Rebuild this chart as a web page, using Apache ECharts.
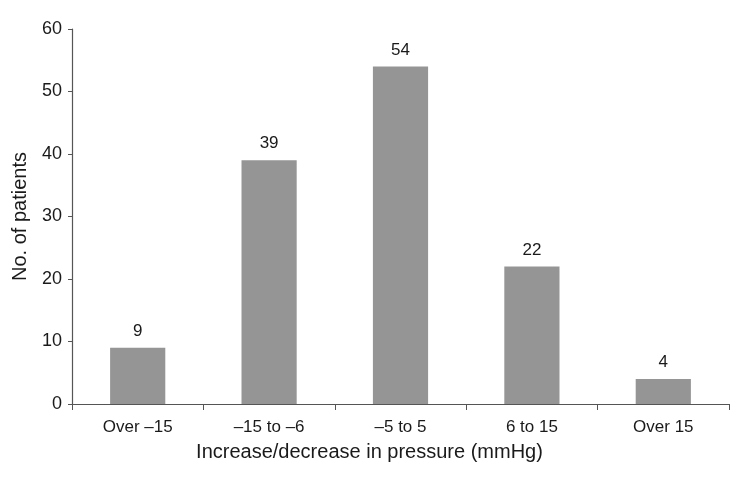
<!DOCTYPE html>
<html>
<head>
<meta charset="utf-8">
<script src="https://cdn.jsdelivr.net/npm/echarts@6/dist/echarts.min.js"></script>
<style>html,body{margin:0;padding:0;background:#fff}#c{width:735px;height:482px}</style>
</head>
<body>
<div id="c"></div>
<script>
var categories = ['Over –15', '–15 to –6', '–5 to 5', '6 to 15', 'Over 15'];
var patients = [9, 39, 54, 22, 4];
var yTicks = {min: 0, max: 60, interval: 10};

var chart = echarts.init(document.getElementById('c'), null, {renderer: 'canvas'});
var font = 'Liberation Sans, Arial, sans-serif';
chart.setOption({
  animation: false,
  grid: {left: 72, right: 6, top: 29, bottom: 78, containLabel: false},
  xAxis: {
    type: 'category',
    data: categories,
    name: 'Increase/decrease in pressure (mmHg)',
    nameLocation: 'middle',
    nameGap: 38,
    nameTextStyle: {fontFamily: font, fontSize: 20, color: '#1a1a1a', padding: [0, 62, 0, 0]},
    axisLine: {lineStyle: {color: '#555', width: 1.2}},
    axisTick: {show: true, alignWithLabel: false, length: 6, lineStyle: {color: '#555'}},
    axisLabel: {fontFamily: font, fontSize: 17, color: '#1a1a1a', margin: 15}
  },
  yAxis: {
    type: 'value',
    min: yTicks.min, max: yTicks.max, interval: yTicks.interval,
    name: 'No. of patients',
    nameLocation: 'middle',
    nameGap: 42,
    nameTextStyle: {fontFamily: font, fontSize: 20, color: '#1a1a1a'},
    axisLine: {show: true, lineStyle: {color: '#555', width: 1.2}},
    axisTick: {show: true, length: 4, lineStyle: {color: '#555'}},
    axisLabel: {fontFamily: font, fontSize: 18, color: '#1a1a1a', margin: 10},
    splitLine: {show: false}
  },
  series: [{
    type: 'bar',
    data: patients,
    barWidth: '42%',
    itemStyle: {color: '#959595'},
    label: {show: true, position: 'top', distance: 8, fontFamily: font, fontSize: 17, color: '#1a1a1a'}
  }]
});
</script>
</body>
</html>
